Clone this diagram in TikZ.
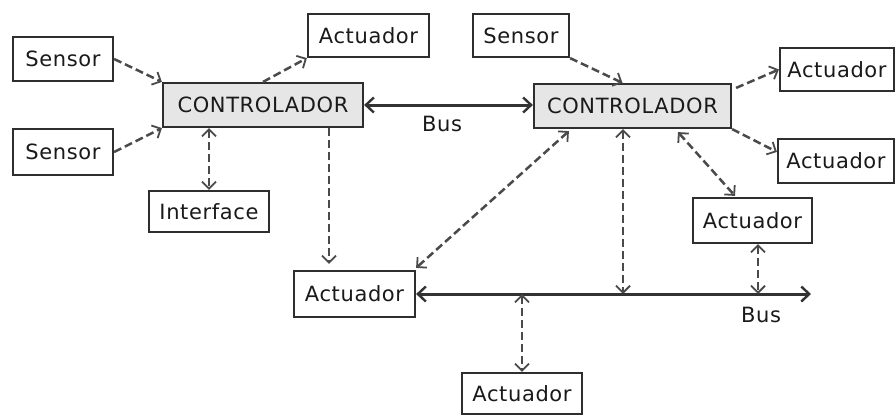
\documentclass[tikz,border=0pt]{standalone}
\usepackage{fontspec}
\setmainfont[LetterSpace=3]{DejaVu Sans}
\usetikzlibrary{arrows.meta,calc}
\definecolor{linec}{HTML}{4A4A4A}
\definecolor{busc}{HTML}{333333}
\definecolor{boxc}{HTML}{2E2E2E}
\definecolor{ctrlfill}{HTML}{E6E6E6}
\definecolor{textc}{HTML}{1A1A1A}
\tikzset{
  box/.style={draw=boxc, line width=2.2pt, fill=white, inner sep=0pt, text=textc,
    font=\fontsize{21}{24}\selectfont},
  ctrl/.style={box, fill=ctrlfill},
  dline/.style={draw=linec, line width=2.5pt, dash pattern=on 8pt off 4pt},
  one/.style={dline, -{Straight Barb[length=7pt,width=14pt,line width=1.8pt]}},
  two/.style={dline, {Straight Barb[length=7pt,width=14pt,line width=1.8pt]}-{Straight Barb[length=7pt,width=14pt,line width=1.8pt]}},
  bus/.style={draw=busc, line width=3pt, {Straight Barb[length=8pt,width=15pt,line width=2.4pt]}-{Straight Barb[length=8pt,width=15pt,line width=2.4pt]}},
  lbl/.style={text=textc, font=\fontsize{21}{24}\selectfont, inner sep=0pt}
}
\begin{document}
\begin{tikzpicture}[x=1pt,y=-1pt]
\useasboundingbox[fill=white] (0,0) rectangle (896,416);
% nodes
\node[box, minimum width=100pt, minimum height=44pt] (s1) at (63,59) {Sensor};
\node[box, minimum width=100pt, minimum height=46pt] (s2) at (63,152) {Sensor};
\node[box, minimum width=121pt, minimum height=43pt] (a1) at (368.5,35.5) {Actuador};
\node[ctrl, minimum width=200pt, minimum height=44pt] (c1) at (263,105) {CONTROLADOR};
\node[box, minimum width=120pt, minimum height=41pt] (intf) at (209,211.5) {Interface};
\node[box, minimum width=96pt, minimum height=43pt] (s3) at (521,35.5) {Sensor};
\node[ctrl, minimum width=197pt, minimum height=44pt] (c2) at (632.5,106) {CONTROLADOR};
\node[box, minimum width=114pt, minimum height=43pt] (a2) at (837,69.5) {Actuador};
\node[box, minimum width=116pt, minimum height=44pt] (a3) at (836,161) {Actuador};
\node[box, minimum width=119pt, minimum height=45pt] (a4) at (752.5,220.5) {Actuador};
\node[box, minimum width=121pt, minimum height=46pt] (a5) at (354.5,294) {Actuador};
\node[box, minimum width=120pt, minimum height=41pt] (a6) at (522,393.5) {Actuador};
\node[lbl] (bus1) at (442,124) {Bus};
\node[lbl] (bus2) at (761,315) {Bus};
% coordinates
\coordinate (busend) at (811,294);
\coordinate (d1) at (329,0);
\coordinate (tapA) at (623,294);
\coordinate (tapB) at (758,294);
% sensor/actuator links left
\draw[one] (s1.east) -- (c1.north west);
\draw[one] (s2.east) -- (c1.south west);
\draw[one] (c1.north) -- (a1.south west);
\draw[two] (c1.south -| intf.north) -- (intf.north);
\draw[one] (c1.south -| d1) -- ($(a5.north -| d1)+(0,-6)$);
% top bus
\draw[bus] (c1.east) -- (c1.east -| c2.west);
% right controller links
\draw[one] (s3.south east) -- ($(c2.north)+(-10,0)$);
\draw[one] ($(c2.north east)+(4,5)$) -- (a2.west);
\draw[one] (c2.south east) -- ($(a3.north west)+(0,14)$);
\draw[two] ($(c2.south)+(45.5,3)$) -- ($(a4.north)+(-17.5,-1)$);
\draw[two] (c2.south -| tapA) -- (tapA);
\draw[two] ($(c2.south west)+(36,2)$) -- ($(a5.north east)+(0,-2)$);
% bottom bus
\draw[bus] (a5.east) -- (busend);
\draw[two] (a4.south -| tapB) -- (tapB);
\draw[two] (a6.north |- a5.east) -- (a6.north);
\end{tikzpicture}
\end{document}
